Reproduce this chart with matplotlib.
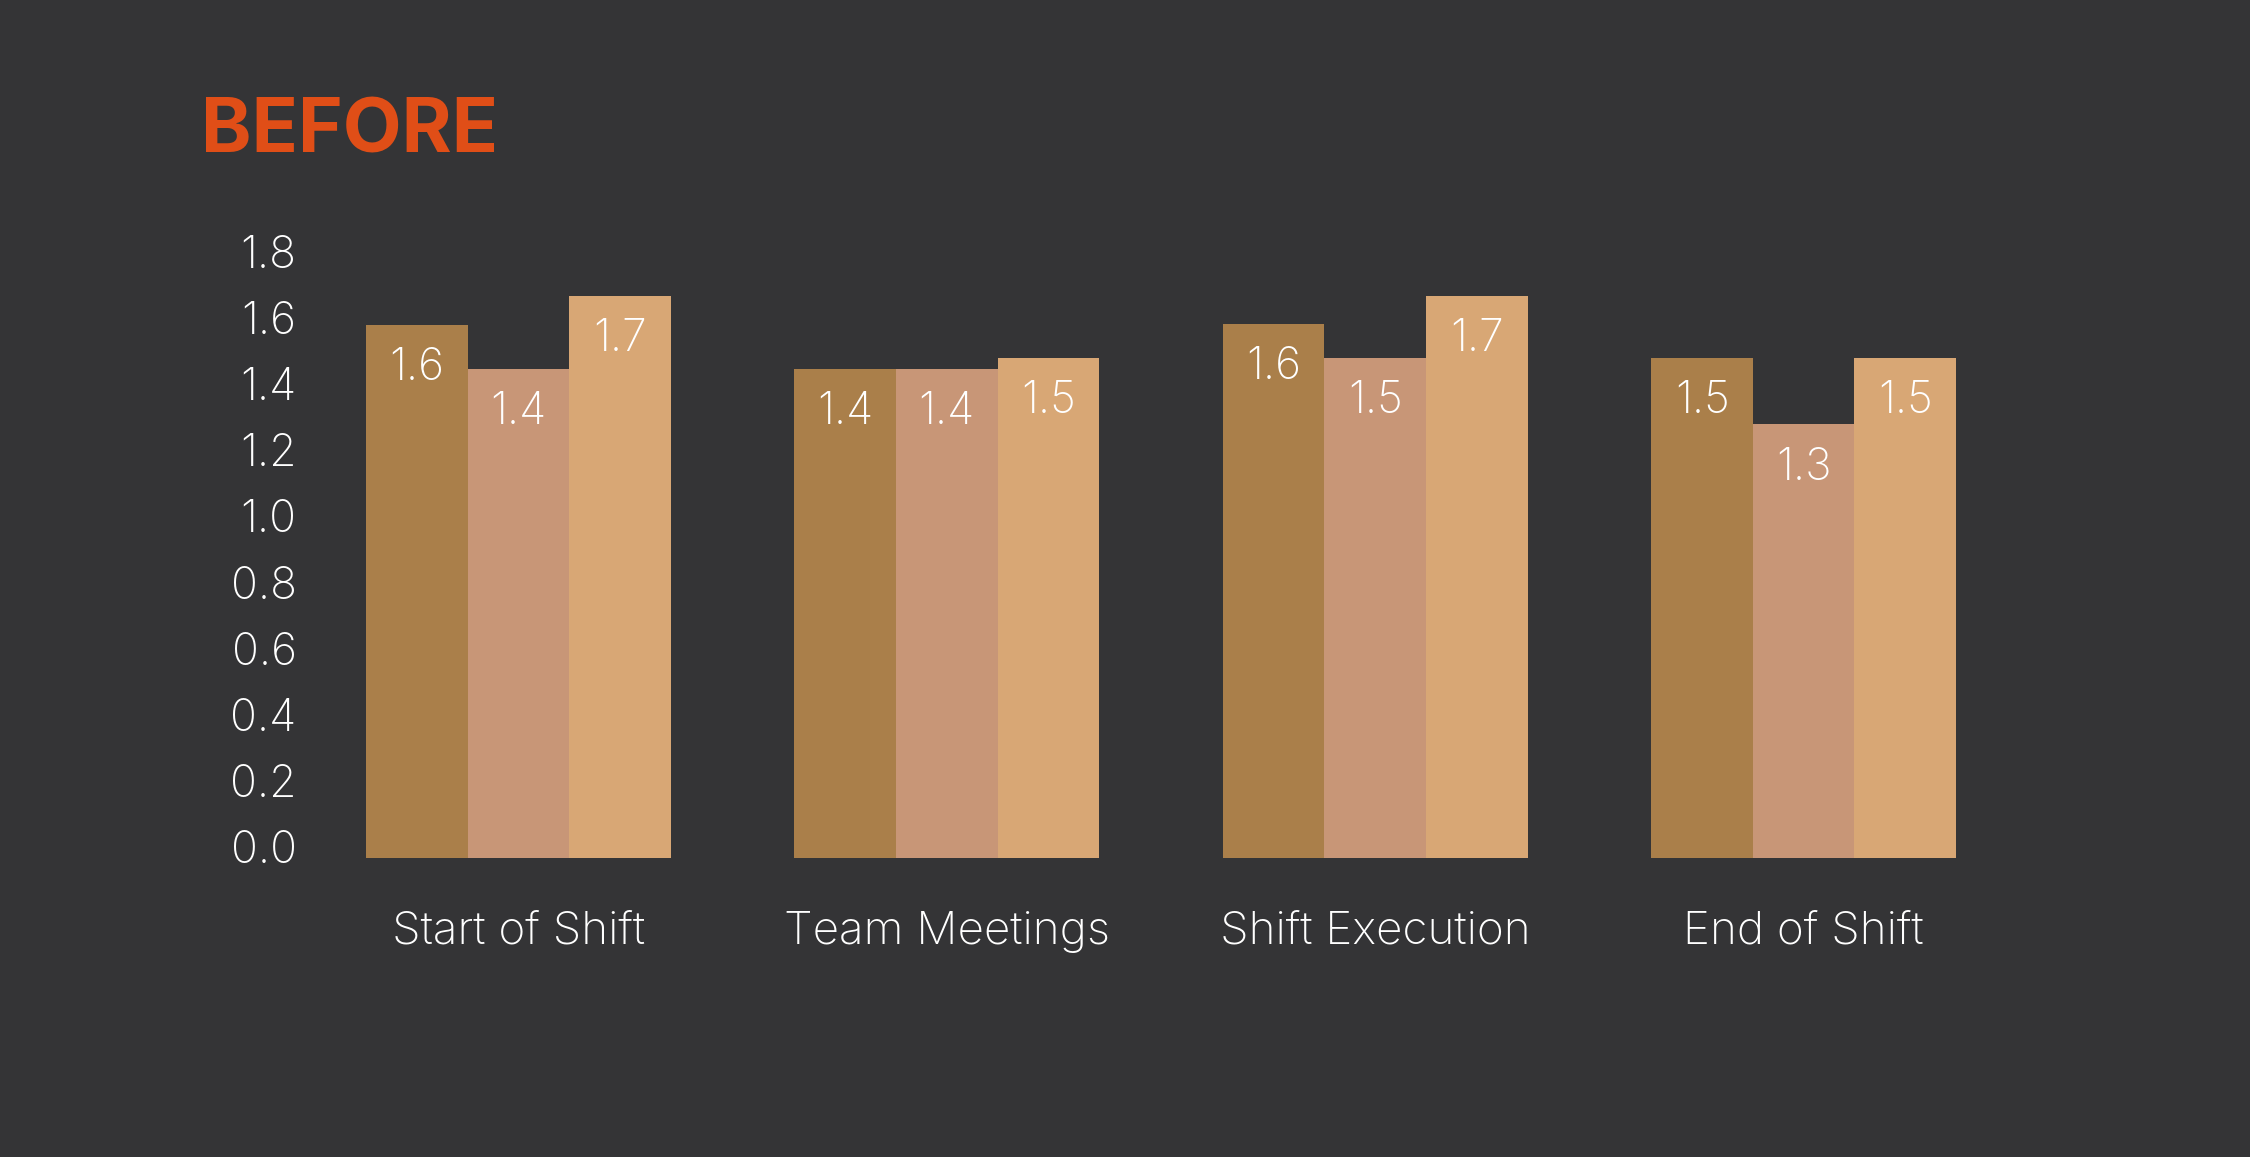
import matplotlib
matplotlib.use("Agg")
import matplotlib.pyplot as plt
import numpy as np

categories = ["Start of Shift", "Team Meetings", "Shift Execution", "End of Shift"]
series_a = [1.576, 1.445, 1.579, 1.476]
series_b = [1.445, 1.445, 1.476, 1.276]
series_c = [1.664, 1.476, 1.664, 1.476]
y_ticks = [0.0, 0.2, 0.4, 0.6, 0.8, 1.0, 1.2, 1.4, 1.6, 1.8]

BG = "#343436"
colors = ["#AA7F4A", "#C89677", "#D8A775"]
FONT = "Inter"

plt.rcParams["font.family"] = [FONT, "DejaVu Sans"]
plt.rcParams["font.weight"] = "light"

fig = plt.figure(figsize=(22.5, 11.57), dpi=100, facecolor=BG)
ax = fig.add_axes([366 / 2250, 1 - 858 / 1157, (1956 - 366) / 2250, (858 - 251) / 1157])
ax.set_facecolor(BG)

base = -11 / 330
width = 0.237
x = np.arange(len(categories))
for k, vals in enumerate([series_a, series_b, series_c]):
    pos = x + (k - 1) * width
    heights = np.array(vals) - base
    ax.bar(pos, heights, width=width, bottom=base, color=colors[k], linewidth=0)
    for p, v in zip(pos, vals):
        ax.annotate(f"{v:.1f}", (p, v), xytext=(0, -31), textcoords="offset points",
                    ha="center", va="center", color="white", fontsize=32)

ax.set_xlim(-1.5 * width, len(categories) - 1 + 1.5 * width)
ax.set_ylim(base, 1.8)
ax.set_yticks(y_ticks)
ax.set_yticklabels([f"{t:.1f}" for t in y_ticks])
ax.set_xticks(x)
ax.set_xticklabels(categories)
ax.tick_params(axis="y", length=0, pad=50, labelsize=32, labelcolor="white")
ax.tick_params(axis="x", length=0, pad=38, labelsize=33, labelcolor="white")
for s in ax.spines.values():
    s.set_visible(False)

fig.text(201 / 2250, 1 - 133 / 1157, "BEFORE", color="#E04E17", fontsize=55,
         fontweight="bold", ha="left", va="center")

fig.savefig("out.png", facecolor=BG)
